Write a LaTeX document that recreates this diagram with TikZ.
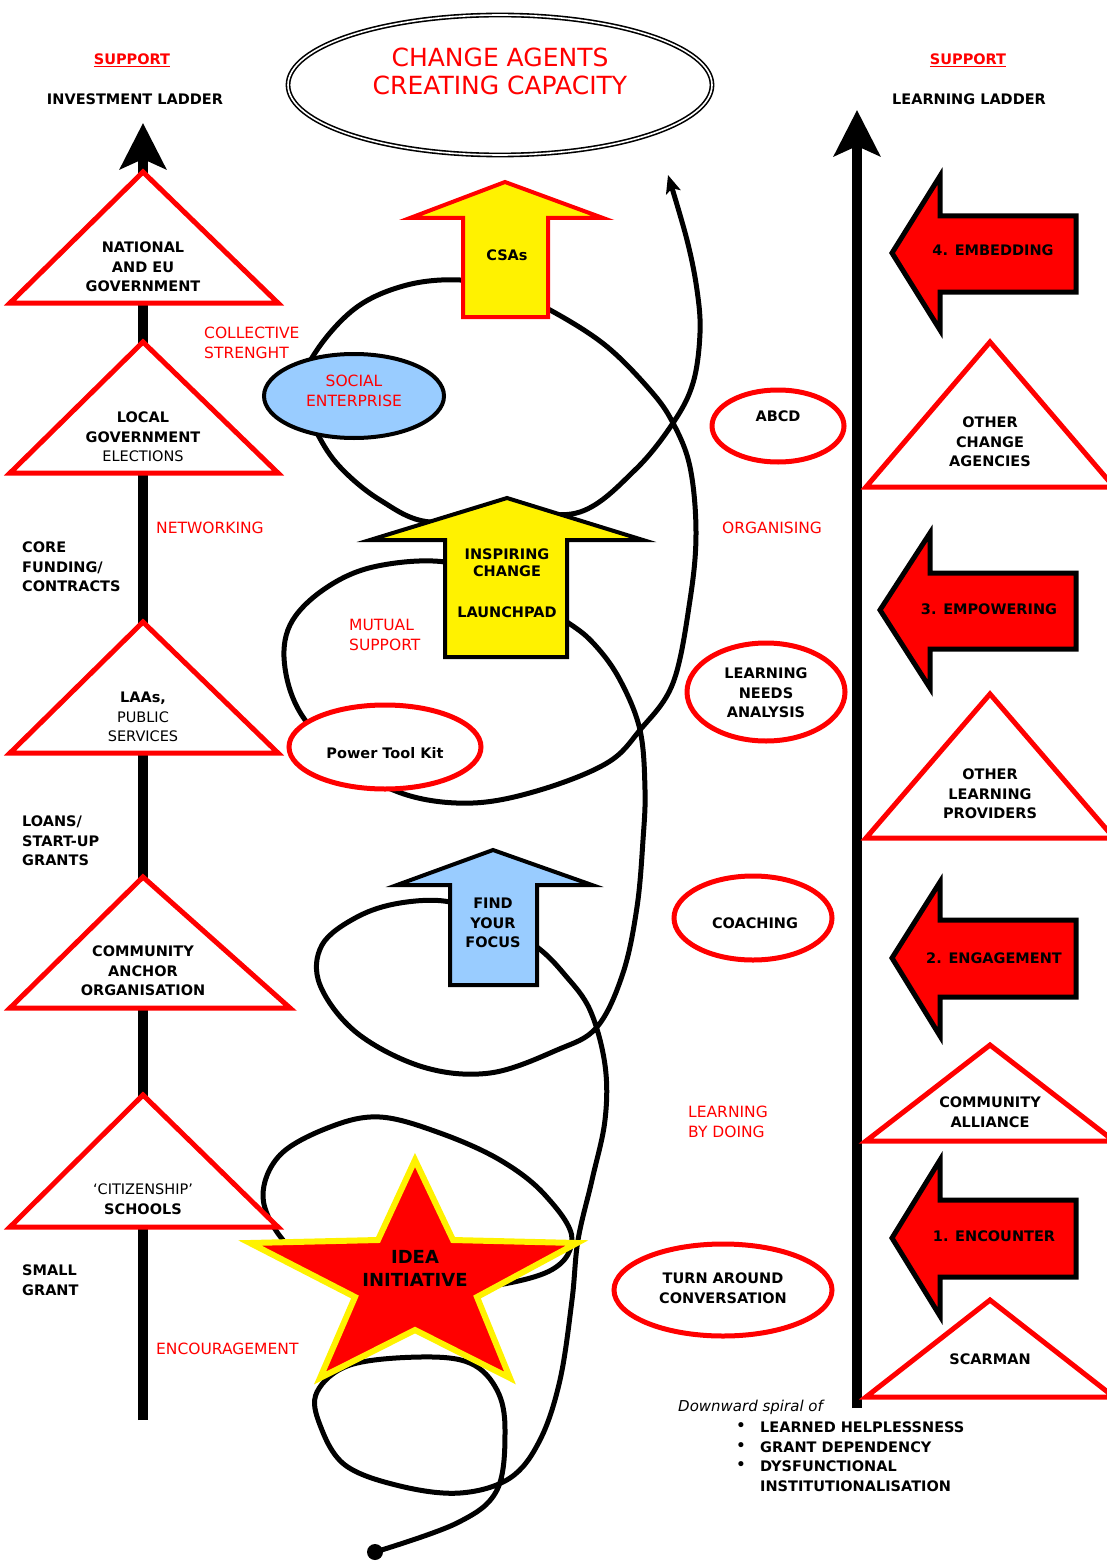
\documentclass[tikz,border=0pt]{standalone}
\usepackage{fontspec}
\setmainfont{DejaVu Sans}
\usetikzlibrary{arrows.meta}

\definecolor{skyblue}{RGB}{153,204,255}

\begin{document}
\begin{tikzpicture}[
			x = 1pt, y = -1pt,
			every node/.style = {inner sep = 0pt, align = center},
			lbl/.style = {font = \fontsize{14.5}{19.5}\selectfont\bfseries},
			redlbl/.style = {font = \fontsize{15.5}{19.5}\selectfont, text = red, anchor = west, align = left},
			sidelbl/.style = {lbl, anchor = west, align = left},
			rung/.style = {draw = red, line width = 5pt, fill = white},
			bubble/.style = {draw = red, line width = 5pt, fill = white},
			stage/.style = {draw = black, line width = 5pt, fill = red},
			ladder/.style = {line width = 10pt, -{Stealth[length = 46pt, width = 46pt, inset = 10pt]}},
			spiral/.style = {line width = 5pt, line join = round}
			]

			\useasboundingbox (0,0) rectangle (1106,1562);

			\node[circle, fill, minimum size = 16pt] (seed) at (375,1552) {};
			\draw[spiral, -{Stealth[length = 18pt, width = 15pt, inset = 4pt]}] plot[smooth, tension = 0.6] coordinates {
				(seed) (457,1523) (497,1490) (505,1430) (497,1390) (470,1363) (420,1357) (350,1365) (317,1392)
				(320,1425) (345,1465) (400,1486) (460,1493) (510,1478) (540,1440) (560,1380) (572,1300)
				(578,1240) (592,1180) (605,1120) (605,1065) (590,1010) (565,975) (537,947) (495,922) (450,902)
				(400,903) (357,917) (322,945) (320,985) (357,1033) (423,1067) (490,1073) (557,1050)
				(597,1027) (623,973) (637,907) (643,840) (645,790) (640,730) (620,680) (595,645)
				(567,622) (505,585) (445,562) (373,567) (323,590) (290,625) (285,668) (303,717)
				(350,765) (407,795) (473,803) (540,790) (607,763) (640,730) (673,683) (690,600)
				(696,533) (690,467) (673,423) (650,390) (605,345) (550,310) (505,290) (460,280)
				(407,285) (357,307) (317,350) (300,392) (317,433) (340,467) (380,500) (430,522)
				(507,512) (580,512) (635,470) (673,423) (693,383) (700,333) (697,290) (687,240) (668,175)};
			\draw[spiral] plot[smooth cycle, tension = 0.6] coordinates {
				(283,1240) (263,1197) (280,1155) (330,1127) (380,1117) (440,1133) (500,1160) (545,1195)
				(572,1240) (540,1275) (430,1290) (320,1265)};

			\draw[line width = 1.6pt, double distance = 1.6pt] (500,85) ellipse [x radius = 212pt, y radius = 70pt];
			\node[font = \fontsize{25}{28}\selectfont, text = red] (title) at (500,71) {CHANGE AGENTS\\CREATING CAPACITY};

			\node[lbl, text = red] (supinv) at (132,60) {\underline{SUPPORT}};
			\node[lbl] (invlad) at (135,99) {INVESTMENT LADDER};
			\node[lbl, text = red] (suplrn) at (968,60) {\underline{SUPPORT}};
			\node[lbl] (lrnlad) at (969,99) {LEARNING LADDER};

			\coordinate (invfoot) at (143,1420);
			\coordinate (invtip) at (143,123);
			\draw[ladder] (invfoot) -- (invtip);
			\coordinate (lrnfoot) at (857,1408);
			\coordinate (lrntip) at (857,110);
			\draw[ladder] (lrnfoot) -- (lrntip);

			\draw[rung] (143,172) -- (278,303) -- (10,303) -- cycle;
			\node[lbl] (natgov) at (143,267) {NATIONAL\\AND EU\\GOVERNMENT};
			\draw[rung] (143,342) -- (278,473) -- (10,473) -- cycle;
			\node[lbl] (locgov) at (143,437) {LOCAL\\GOVERNMENT\\\mdseries ELECTIONS};
			\draw[rung] (143,622) -- (278,753) -- (10,753) -- cycle;
			\node[lbl] (laas) at (143,717) {LAAs,\\\mdseries PUBLIC\\\mdseries SERVICES};
			\draw[rung] (143,877) -- (290,1008) -- (10,1008) -- cycle;
			\node[lbl] (anchor) at (143,971) {COMMUNITY\\ANCHOR\\ORGANISATION};
			\draw[rung] (143,1095) -- (278,1227) -- (10,1227) -- cycle;
			\node[lbl] (schools) at (143,1199) {{\mdseries `CITIZENSHIP'}\\SCHOOLS};

			\node[sidelbl] (core) at (22,567) {CORE\\FUNDING/\\CONTRACTS};
			\node[sidelbl] (loans) at (22,841) {LOANS/\\START-UP\\GRANTS};
			\node[sidelbl] (small) at (22,1280) {SMALL\\GRANT};

			\draw[rung] (990,342) -- (1114,487) -- (866,487) -- cycle;
			\node[lbl] (agencies) at (990,442) {OTHER\\CHANGE\\AGENCIES};
			\draw[rung] (990,694) -- (1114,838) -- (866,838) -- cycle;
			\node[lbl] (providers) at (990,794) {OTHER\\LEARNING\\PROVIDERS};
			\draw[rung] (990,1045) -- (1114,1141) -- (866,1141) -- cycle;
			\node[lbl] (alliance) at (990,1112) {COMMUNITY\\ALLIANCE};
			\draw[rung] (990,1300) -- (1114,1397) -- (866,1397) -- cycle;
			\node[lbl] (scarman) at (990,1359) {SCARMAN};

			\draw[stage] (892,253) -- (940,176) -- (940,216) -- (1076,216) -- (1076,292) -- (940,292) -- (940,330) -- cycle;
			\node[lbl] (embed) at (993,250) {4. EMBEDDING};
			\draw[stage] (880,610) -- (930,533) -- (930,573) -- (1076,573) -- (1076,649) -- (930,649) -- (930,688) -- cycle;
			\node[lbl] (empower) at (989,609) {3. EMPOWERING};
			\draw[stage] (892,958) -- (940,882) -- (940,920) -- (1076,920) -- (1076,997) -- (940,997) -- (940,1036) -- cycle;
			\node[lbl] (engage) at (994,958) {2. ENGAGEMENT};
			\draw[stage] (892,1238) -- (940,1160) -- (940,1200) -- (1076,1200) -- (1076,1277) -- (940,1277) -- (940,1316) -- cycle;
			\node[lbl] (encounter) at (994,1236) {1. ENCOUNTER};

			\draw[fill = yellow, draw = red, line width = 4pt] (505,182) -- (603,218) -- (548,218) -- (548,317) -- (463,317) -- (463,218) -- (410,218) -- cycle;
			\node[lbl] (csas) at (507,255) {CSAs};
			\draw[fill = yellow, line width = 4pt] (507,498) -- (643,540) -- (567,540) -- (567,657) -- (445,657) -- (445,540) -- (370,540) -- cycle;
			\node[lbl, font = \fontsize{14.5}{17}\selectfont\bfseries] (inspire) at (507,563) {INSPIRING\\CHANGE};
			\node[lbl] (launch) at (507,612) {LAUNCHPAD};
			\draw[fill = skyblue, line width = 4pt] (493,850) -- (592,885) -- (537,885) -- (537,985) -- (450,985) -- (450,885) -- (397,885) -- cycle;
			\node[lbl] (focus) at (493,923) {FIND\\YOUR\\FOCUS};

			\draw[fill = skyblue, line width = 4pt] (354,396) ellipse [x radius = 90pt, y radius = 42pt];
			\node[redlbl, anchor = center, align = center] (social) at (354,391) {SOCIAL\\ENTERPRISE};
			\draw[bubble] (385,747) ellipse [x radius = 96pt, y radius = 42pt];
			\node[lbl] (toolkit) at (385,753) {Power Tool Kit};
			\draw[bubble] (778,426) ellipse [x radius = 66pt, y radius = 36pt];
			\node[lbl] (abcd) at (778,416) {ABCD};
			\draw[bubble] (766,692) ellipse [x radius = 79pt, y radius = 49pt];
			\node[lbl] (needs) at (766,693) {LEARNING\\NEEDS\\ANALYSIS};
			\draw[bubble] (753,918) ellipse [x radius = 79pt, y radius = 42pt];
			\node[lbl] (coach) at (755,923) {COACHING};
			\draw[bubble] (723,1290) ellipse [x radius = 109pt, y radius = 46pt];
			\node[lbl] (turn) at (723,1288) {TURN AROUND\\CONVERSATION};

			\draw[fill = red, draw = yellow, line width = 6pt] (415,1160) -- (453,1240) -- (577,1243) -- (477,1297) -- (510,1378) -- (415,1330) -- (320,1378) -- (355,1297) -- (250,1243) -- (378,1240) -- cycle;
			\node[font = \fontsize{18}{23}\selectfont\bfseries] (idea) at (415,1268) {IDEA\\INITIATIVE};

			\node[redlbl] (collective) at (204,343) {COLLECTIVE\\STRENGHT};
			\node[redlbl] (network) at (156,528) {NETWORKING};
			\node[redlbl] (mutual) at (349,635) {MUTUAL\\SUPPORT};
			\node[redlbl] (organise) at (722,528) {ORGANISING};
			\node[redlbl] (doing) at (688,1122) {LEARNING\\BY DOING};
			\node[redlbl] (encourage) at (156,1349) {ENCOURAGEMENT};

			\node[anchor = west, font = \fontsize{15}{19}\selectfont\itshape] (spiralof) at (678,1407) {Downward spiral of};
			\node[lbl] (dot1) at (741,1427) {\textbullet};
			\node[lbl] (dot2) at (741,1447) {\textbullet};
			\node[lbl] (dot3) at (741,1466) {\textbullet};
			\node[sidelbl] (helpless) at (760,1427) {LEARNED HELPLESSNESS};
			\node[sidelbl] (depend) at (760,1447) {GRANT DEPENDENCY};
			\node[sidelbl] (dysfun) at (760,1476) {DYSFUNCTIONAL\\INSTITUTIONALISATION};

		\end{tikzpicture}
\end{document}
